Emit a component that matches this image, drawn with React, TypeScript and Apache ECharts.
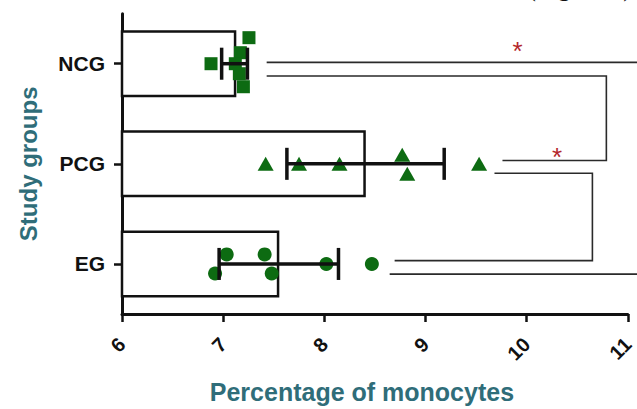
import React, { useEffect, useRef } from "react";
import * as echarts from "echarts";

// Study groups, top to bottom
const groups = ["NCG", "PCG", "EG"];
// Group means (bar lengths) and error-bar limits
const groupMeans = [7.13, 8.41, 7.555];
const errorLow = [6.985, 7.63, 6.96];
const errorHigh = [7.24, 9.185, 8.14];

// Individual observations: [percentage, vertical jitter inside the group band]
const ncgPoints = [
  [7.255, -0.26],
  [6.88, 0.0],
  [7.17, -0.11],
  [7.12, 0.0],
  [7.16, 0.1],
  [7.2, 0.23],
];
const pcgPoints = [
  [7.42, 0.0],
  [7.75, 0.0],
  [8.15, 0.0],
  [8.77, -0.09],
  [8.82, 0.1],
  [9.53, 0.0],
];
const egPoints = [
  [7.035, -0.095],
  [7.41, -0.095],
  [6.92, 0.095],
  [7.48, 0.095],
  [8.02, 0.0],
  [8.47, 0.0],
];

// x axis range
const xMin = 6;
const xMax = 11;
const xStep = 1;

// Comparison brackets: start point, x of the vertical, end point (x value, group position)
const bracketStart = [
  [7.43, -0.013],
  [7.43, 0.123],
  [9.682, 1.094],
];
const bracketCorner = [11.5, 10.788, 10.65];
const bracketEnd = [
  [8.646, 2.102],
  [9.761, 0.967],
  [8.695, 1.967],
];
// Significance marks
const starLabels = ["*", "*"];
const starPositions = [
  [9.91, -0.2],
  [10.3, 0.86],
];

const GREEN = "#0d6b12";
const INK = "#111111";
const TEAL = "#2f6d79";
const SANS = "'Liberation Sans', Arial, Helvetica, sans-serif";

function toScatter(points: number[][], groupIndex: number) {
  return points.map((p) => [p[0], groupIndex + p[1]]);
}

export default function App() {
  const ref = useRef<HTMLDivElement>(null);

  useEffect(() => {
    if (!ref.current) return;
    const chart = echarts.init(ref.current, null, { renderer: "svg" });

    const pointSeries = (data: number[][], symbol: string, size: number | number[]) => ({
      type: "scatter",
      xAxisIndex: 0,
      yAxisIndex: 1,
      symbol,
      symbolSize: size,
      itemStyle: { color: GREEN, opacity: 1 },
      data,
      z: 3,
    });

    chart.setOption({
      animation: false,
      grid: { left: 122, right: 8.4, top: 13.65, bottom: 79, containLabel: false },
      graphic: [
        {
          type: "text",
          right: 5,
          top: -26,
          style: {
            text: "(Figure 1)",
            font: "26px 'Liberation Serif', 'Times New Roman', serif",
            lineHeight: 26,
            fill: "#111",
          },
        },
      ],
      xAxis: {
        type: "value",
        min: xMin,
        max: xMax,
        interval: xStep,
        name: "Percentage of monocytes",
        nameLocation: "middle",
        nameGap: 65,
        nameTextStyle: {
          color: TEAL,
          fontSize: 25,
          fontWeight: "bold",
          fontFamily: SANS,
          padding: [0, 26, 0, 0],
        },
        axisLine: { show: true, onZero: false, lineStyle: { color: INK, width: 3 } },
        axisTick: { show: true, length: 8, lineStyle: { color: INK, width: 2.5 } },
        axisLabel: {
          rotate: 45,
          margin: 27,
          color: INK,
          fontSize: 20,
          fontWeight: "bold",
          fontFamily: SANS,
        },
        splitLine: { show: false },
      },
      yAxis: [
        {
          type: "category",
          data: groups,
          inverse: true,
          name: "Study groups",
          nameLocation: "middle",
          nameGap: 82,
          nameTextStyle: { color: TEAL, fontSize: 24, fontWeight: "bold", fontFamily: SANS },
          axisLine: { show: true, lineStyle: { color: INK, width: 3 } },
          axisTick: { show: true, alignWithLabel: true, length: 8, lineStyle: { color: INK, width: 2.5 } },
          axisLabel: { color: INK, fontSize: 21, fontWeight: "bold", fontFamily: SANS, margin: 17 },
        },
        {
          type: "value",
          min: -0.5,
          max: 2.5,
          inverse: true,
          show: false,
        },
      ],
      series: [
        {
          type: "bar",
          xAxisIndex: 0,
          yAxisIndex: 0,
          data: groupMeans,
          barWidth: "67%",
          clip: true,
          itemStyle: { color: "#ffffff", borderColor: INK, borderWidth: 2.5 },
          z: 1,
        },
        pointSeries(toScatter(ncgPoints, 0), "rect", 13),
        pointSeries(toScatter(pcgPoints, 1), "triangle", [16, 14]),
        pointSeries(toScatter(egPoints, 2), "circle", 14),
        {
          type: "custom",
          xAxisIndex: 0,
          yAxisIndex: 1,
          z: 4,
          data: groups.map((_, i) => [i, errorLow[i], errorHigh[i]]),
          encode: { x: [1, 2], y: 0 },
          renderItem: (params: any, api: any) => {
            const y = api.value(0);
            const lo = api.coord([api.value(1), y]);
            const hi = api.coord([api.value(2), y]);
            const cap = api.size([0, 0.16])[1];
            const style = { stroke: INK, lineWidth: 3.5 };
            return {
              type: "group",
              children: [
                { type: "line", shape: { x1: lo[0], y1: lo[1], x2: hi[0], y2: hi[1] }, style },
                { type: "line", shape: { x1: lo[0], y1: lo[1] - cap, x2: lo[0], y2: lo[1] + cap }, style },
                { type: "line", shape: { x1: hi[0], y1: hi[1] - cap, x2: hi[0], y2: hi[1] + cap }, style },
              ],
            };
          },
        },
        {
          type: "custom",
          xAxisIndex: 0,
          yAxisIndex: 1,
          clip: false,
          z: 2,
          data: bracketStart.map((s, i) => [s[0], s[1], bracketCorner[i], bracketEnd[i][0], bracketEnd[i][1]]),
          renderItem: (params: any, api: any) => {
            const a = api.coord([api.value(0), api.value(1)]);
            const b = api.coord([api.value(2), api.value(1)]);
            const c = api.coord([api.value(2), api.value(4)]);
            const d = api.coord([api.value(3), api.value(4)]);
            return {
              type: "polyline",
              shape: { points: [a, b, c, d] },
              style: { stroke: "#2a2a2a", lineWidth: 1.6, fill: null },
            };
          },
        },
        {
          type: "custom",
          xAxisIndex: 0,
          yAxisIndex: 1,
          clip: false,
          z: 5,
          data: starPositions.map((p, i) => [p[0], p[1], i]),
          renderItem: (params: any, api: any) => {
            const pt = api.coord([api.value(0), api.value(1)]);
            return {
              type: "text",
              style: {
                text: starLabels[api.value(2)],
                x: pt[0],
                y: pt[1] + 7,
                fill: "#b3262b",
                font: `26px ${SANS}`,
                align: "center",
                verticalAlign: "middle",
              },
            };
          },
        },
      ],
    });

    return () => chart.dispose();
  }, []);

  return (
    <div
      ref={ref}
      style={{ position: "fixed", left: 0, top: 0, width: 637, height: 409, background: "#fff" }}
    />
  );
}
